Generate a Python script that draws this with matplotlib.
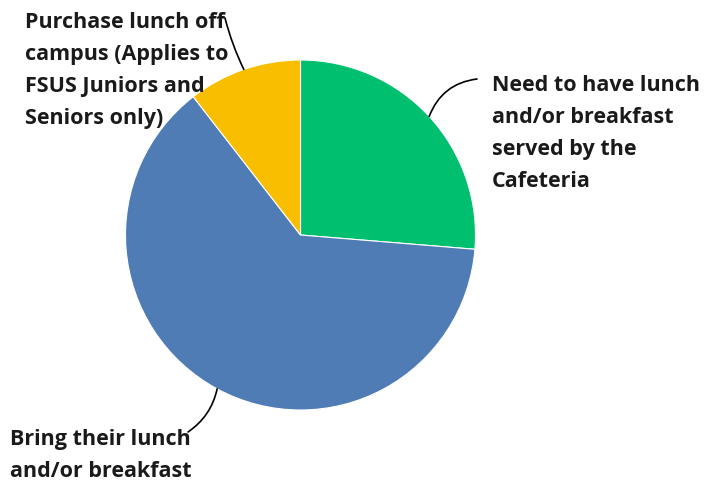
import numpy as np
import matplotlib.pyplot as plt

labels = ["Need to have lunch\nand/or breakfast\nserved by the\nCafeteria",
          "Bring their lunch\nand/or breakfast",
          "Purchase lunch off\ncampus (Applies to\nFSUS Juniors and\nSeniors only)"]
shares = [26.3, 63.2, 10.5]
colors = ["#00bf6f", "#507cb6", "#f9be00"]

W, H = 704, 482
fig = plt.figure(figsize=(W/100, H/100), dpi=100)
ax = fig.add_axes([0, 0, 1, 1])

cx, cy, r = 300.5, H - 235, 175
wedges, _ = ax.pie(shares, colors=colors, startangle=90, counterclock=False,
                   center=(cx, cy), radius=r, frame=True,
                   wedgeprops=dict(edgecolor="white", linewidth=0.8))
ax.set_xlim(0, W)
ax.set_ylim(0, H)
ax.set_aspect("equal")
ax.axis("off")

font = dict(family="Open Sans", weight="bold", fontsize=15.5, color="#1a1a1a", linespacing=1.68)

# label positions (top-left of text block) and leader line ends, in pixels
text_pos = [(492, 75), (10, 429), (25, 12)]
line_end = [(477, 79), (188, 432), (225, 18)]
rads = [0.3, 0.2, 0.05]

for w, lab, tp, le, rad in zip(wedges, labels, text_pos, line_end, rads):
    ang = np.deg2rad((w.theta1 + w.theta2) / 2)
    ex, ey = cx + r*np.cos(ang), cy + r*np.sin(ang)
    ax.text(tp[0], H - tp[1], lab, ha="left", va="top", **font)
    ax.annotate("", xy=(ex, ey), xytext=(le[0], H - le[1]),
                arrowprops=dict(arrowstyle="-", color="black", lw=1.2,
                                shrinkA=0, shrinkB=0,
                                connectionstyle="arc3,rad=%s" % rad))

fig.savefig("out.png", dpi=100, facecolor="white")
